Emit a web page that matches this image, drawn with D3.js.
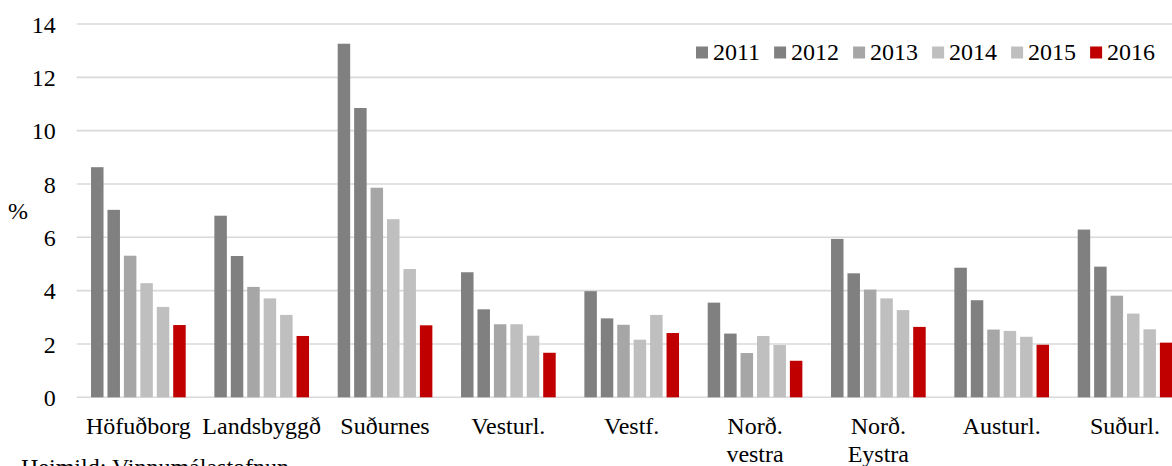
<!DOCTYPE html>
<html>
<head>
<meta charset="utf-8">
<script src="https://cdn.jsdelivr.net/npm/d3@7/dist/d3.min.js"></script>
<style>
  html, body { margin: 0; padding: 0; background: #fff; }
  svg { display: block; }
  text { font-family: "Liberation Serif", "Times New Roman", serif; fill: #000; }
</style>
</head>
<body>
<svg id="chart" width="1172" height="466"></svg>
<script>
// Atvinnuleysi (%) eftir landshlutum, 2011–2016
const regions = ["Höfuðborg", "Landsbyggð", "Suðurnes", "Vesturl.", "Vestf.", "Norð.\nvestra", "Norð.\nEystra", "Austurl.", "Suðurl."];
const years = ["2011", "2012", "2013", "2014", "2015", "2016"];

const v2011 = [8.63, 6.81, 13.26, 4.69, 3.98, 3.55, 5.94, 4.86, 6.29];
const v2012 = [7.03, 5.30, 10.85, 3.30, 2.96, 2.39, 4.65, 3.64, 4.90];
const v2013 = [5.31, 4.14, 7.86, 2.74, 2.72, 1.66, 4.04, 2.54, 3.81];
const v2014 = [4.28, 3.71, 6.68, 2.74, 2.16, 2.30, 3.71, 2.49, 3.14];
const v2015 = [3.39, 3.09, 4.81, 2.31, 3.09, 1.96, 3.27, 2.27, 2.55];
const v2016 = [2.71, 2.30, 2.70, 1.67, 2.41, 1.37, 2.64, 1.97, 2.05];

const yTicks = [0, 2, 4, 6, 8, 10, 12, 14];
const colors = ["#808080", "#808080", "#a6a6a6", "#bfbfbf", "#bfbfbf", "#c00000"];

const seriesValues = [v2011, v2012, v2013, v2014, v2015, v2016];
const rows = regions.map((r, i) => ({
  region: r,
  values: years.map((y, j) => ({ year: y, value: seriesValues[j][i] }))
}));

const svg = d3.select("#chart");
const fontSize = 24;

// plot area (the right edge runs past the visible canvas)
const plotLeft = 76.7, plotRight = 1186.7, plotTop = 24, plotBottom = 397.3;

const x0 = d3.scaleBand().domain(regions).range([plotLeft, plotRight]).padding(0);
const x1 = d3.scaleBand().domain(years).range([0, x0.bandwidth()])
  .paddingInner(0.24).paddingOuter(0.872);
const y = d3.scaleLinear().domain([0, 14]).range([plotBottom, plotTop]);
const color = d3.scaleOrdinal().domain(years).range(colors);

// horizontal gridlines
svg.append("g")
  .selectAll("line")
  .data(yTicks)
  .join("line")
  .attr("x1", plotLeft)
  .attr("x2", plotRight)
  .attr("y1", d => y(d))
  .attr("y2", d => y(d))
  .attr("stroke", "#d9d9d9")
  .attr("stroke-width", 1.6);

// y axis labels
const yAxis = d3.axisLeft(y).tickValues(yTicks).tickSize(0).tickPadding(0);
const gy = svg.append("g").attr("transform", `translate(${plotLeft - 21},0)`).call(yAxis);
gy.select(".domain").remove();
gy.selectAll("text")
  .attr("font-size", fontSize)
  .attr("font-family", "Liberation Serif")
  .attr("fill", "#000")
  .attr("dy", "0.34em");

// axis title
svg.append("text")
  .attr("x", 18)
  .attr("y", (plotTop + plotBottom) / 2)
  .attr("dy", "0.34em")
  .attr("text-anchor", "middle")
  .attr("font-size", fontSize)
  .text("%");

// bars
const groups = svg.append("g")
  .selectAll("g")
  .data(rows)
  .join("g")
  .attr("transform", d => `translate(${x0(d.region)},0)`);

groups.selectAll("rect")
  .data(d => d.values)
  .join("rect")
  .attr("x", d => x1(d.year))
  .attr("y", d => y(d.value))
  .attr("width", x1.bandwidth())
  .attr("height", d => y(0) - y(d.value))
  .attr("fill", d => color(d.year));

// category labels (may wrap to two lines)
const cat = svg.append("g")
  .selectAll("text")
  .data(regions)
  .join("text")
  .attr("x", d => x0(d) + x0.bandwidth() / 2)
  .attr("y", 434)
  .attr("text-anchor", "middle")
  .attr("font-size", fontSize);
cat.each(function (d) {
  const t = d3.select(this);
  d.split("\n").forEach((line, i) => {
    t.append("tspan")
      .attr("x", x0(d) + x0.bandwidth() / 2)
      .attr("dy", i === 0 ? 0 : 28)
      .text(line);
  });
});

// legend
const legendX = 696, legendY = 52, sq = 12, gap = 5, itemGap = 14;
const legend = svg.append("g");
let lx = legendX;
years.forEach(yr => {
  const g = legend.append("g").attr("transform", `translate(${lx},${legendY})`);
  g.append("rect")
    .attr("x", 0).attr("y", -sq / 2 + 0.5)
    .attr("width", sq).attr("height", sq)
    .attr("fill", color(yr));
  const t = g.append("text")
    .attr("x", sq + gap)
    .attr("y", 0)
    .attr("dy", "0.34em")
    .attr("font-size", fontSize)
    .text(yr);
  lx += sq + gap + t.node().getComputedTextLength() + itemGap;
});

// source note
svg.append("text")
  .attr("x", 21)
  .attr("y", 475)
  .attr("font-size", fontSize)
  .text("Heimild: Vinnumálastofnun");
</script>
</body>
</html>
